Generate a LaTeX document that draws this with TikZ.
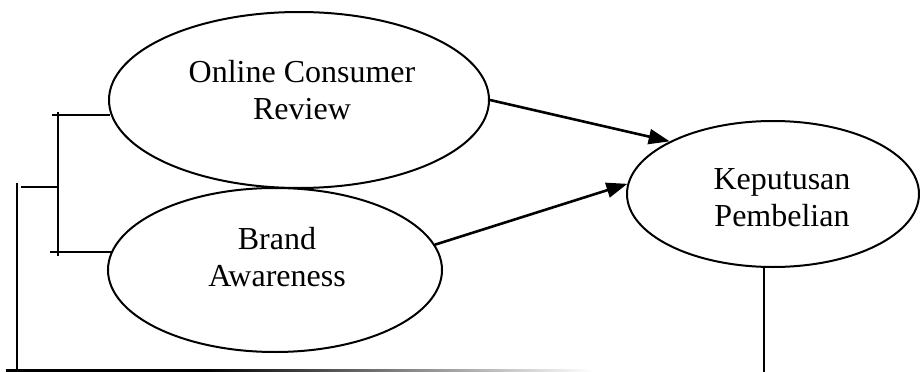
\documentclass[tikz,border=0pt]{standalone}
\usepackage{fontspec}
\setmainfont{Liberation Serif}
\usetikzlibrary{shapes.geometric,arrows.meta}
\pgfdeclarehorizontalshading{fadeline}{100bp}{color(0bp)=(black); color(25bp)=(black); color(42bp)=(black); color(75bp)=(white); color(100bp)=(white)}
\begin{document}
\begin{tikzpicture}[x=1pt,y=-1pt,
  oval/.style={draw=black, line width=2pt, ellipse, inner sep=0pt},
  txt/.style={align=center, font=\fontsize{32}{37}\selectfont, inner sep=0pt},
  conn/.style={line width=2pt},
  arr/.style={line width=2.6pt, -{Triangle[length=21pt,width=15pt]}}]
\useasboundingbox (0,0) rectangle (922,372);
% ellipses
\node[oval, minimum width=380pt, minimum height=176pt] (ocr) at (299,100) {};
\node[oval, minimum width=334pt, minimum height=164pt] (ba) at (275,270) {};
\node[oval, minimum width=292pt, minimum height=146pt] (kp) at (773,194) {};
% texts
\node[txt] (tocr) at (302,90) {Online Consumer\\Review};
\node[txt] (tba) at (277,257) {Brand\\Awareness};
\node[txt] (tkp) at (782,198) {Keputusan\\Pembelian};
% arrows
\draw[arr] (ocr.east) -- (kp.153);
\draw[arr] (ba.9.8) -- (kp.176.8);
% bracket
\coordinate (b1) at (52,115);
\coordinate (b2) at (50,252);
\coordinate (bt) at (58,112);
\coordinate (bb) at (58,256);
\coordinate (bm) at (58,187);
\coordinate (bl) at (21,187);
\coordinate (lt) at (17,183);
\coordinate (lb) at (17,370);
\coordinate (kb) at (764,372);
\draw[conn] (b1) -- (b1 -| ocr.184.6);
\draw[conn] (b2) -- (b2 -| ba.173.7);
\draw[conn] (bt) -- (bb);
\draw[conn] (bl) -- (bm);
\draw[conn] (lt) -- (lb);
\draw[conn] (kp.south -| kb) -- (kb);
% bottom fading line
\shade[shading=fadeline] (6,369) rectangle (592,371.5);
\end{tikzpicture}
\end{document}
